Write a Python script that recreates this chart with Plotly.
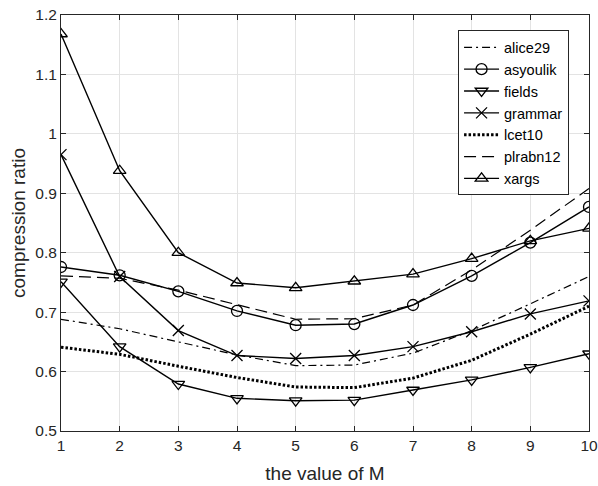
import plotly.graph_objects as go

M = [1, 2, 3, 4, 5, 6, 7, 8, 9, 10]
alice29 = [0.688, 0.672, 0.650, 0.628, 0.610, 0.611, 0.631, 0.669, 0.714, 0.760]
asyoulik = [0.776, 0.762, 0.735, 0.702, 0.678, 0.680, 0.712, 0.761, 0.817, 0.877]
fields = [0.751, 0.642, 0.579, 0.555, 0.551, 0.552, 0.569, 0.586, 0.607, 0.630]
grammar = [0.965, 0.760, 0.669, 0.627, 0.622, 0.627, 0.642, 0.667, 0.697, 0.719]
lcet10 = [0.641, 0.629, 0.609, 0.590, 0.574, 0.573, 0.589, 0.619, 0.663, 0.710]
plrabn12 = [0.761, 0.757, 0.737, 0.713, 0.688, 0.689, 0.712, 0.771, 0.838, 0.908]
xargs = [1.168, 0.938, 0.800, 0.749, 0.741, 0.752, 0.764, 0.790, 0.820, 0.841]

y_ticks = [0.5, 0.6, 0.7, 0.8, 0.9, 1.0, 1.1, 1.2]
y_tick_labels = ["0.5", "0.6", "0.7", "0.8", "0.9", "1", "1.1", "1.2"]

series = [
    ("alice29", alice29, "dashdot", None, 1.2),
    ("asyoulik", asyoulik, "solid", "circle-open", 1.4),
    ("fields", fields, "solid", "triangle-down-open", 1.4),
    ("grammar", grammar, "solid", "x-thin-open", 1.4),
    ("lcet10", lcet10, "dot", None, 3),
    ("plrabn12", plrabn12, "dash", None, 1.2),
    ("xargs", xargs, "solid", "triangle-up-open", 1.4),
]

FONT = "Liberation Sans, Arial"

fig = go.Figure()
for name, vals, dash, sym, w in series:
    if dash == "dashdot":
        dash = "8px,4px,2px,4px"
    elif dash == "dash":
        dash = "12px,6px"
    elif dash == "dot":
        dash = "2.5px,2px"
    fig.add_trace(go.Scatter(
        x=M, y=vals, name=name,
        mode="lines+markers" if sym else "lines",
        line=dict(color="black", width=w, dash=dash),
        marker=dict(symbol=sym, size=11, color="black",
                    line=dict(color="black", width=1.3)) if sym else None,
    ))

axis_common = dict(
    showline=True, linecolor="#262626", linewidth=1, mirror="ticks",
    ticks="inside", ticklen=5, tickcolor="#262626",
    showgrid=True, gridcolor="#e3e3e3", gridwidth=1,
    zeroline=False, automargin=False,
    tickfont=dict(family=FONT, size=15.5, color="#262626"),
)

fig.update_xaxes(range=[1, 10], tickvals=M, ticktext=[str(m) for m in M],
                 title=dict(text="the value of M", standoff=14,
                            font=dict(family=FONT, size=19, color="#262626")),
                 **axis_common)
fig.update_yaxes(range=[0.5, 1.2], tickvals=y_ticks, ticktext=y_tick_labels,
                 title=dict(text="compression ratio", standoff=4,
                            font=dict(family=FONT, size=19, color="#262626")),
                 **axis_common)

fig.update_layout(
    width=598, height=486,
    margin=dict(l=61, r=9, t=15, b=55),
    plot_bgcolor="white", paper_bgcolor="white",
    legend=dict(
        x=0.752, y=0.963, xanchor="left", yanchor="top",
        bgcolor="white", bordercolor="#262626", borderwidth=1,
        font=dict(family=FONT, size=14.5, color="black"),
        itemwidth=35,
    ),
)

fig.write_html(
    "out.html",
    config={"displayModeBar": False},
    post_script="document.body.style.margin='0px';document.body.style.overflow='hidden';",
)
